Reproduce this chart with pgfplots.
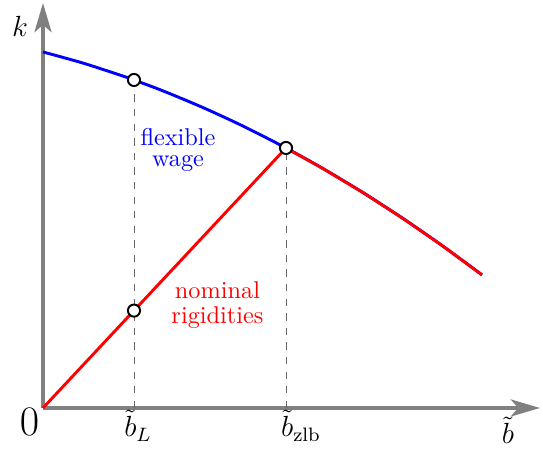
\documentclass[border=0pt]{standalone}
\usepackage{pgfplots}
\pgfplotsset{compat=1.18}
\usetikzlibrary{arrows.meta}

\pgfplotstableread{
b k
0 356
40 344.9
80 331.9
91 328.0
120 317.1
160 300.4
200 281.9
243 260.0
280 239.4
320 215.4
360 189.5
400 161.8
439 133.1
}\flexwage

\pgfplotstableread{
b k
0 0
91 97.4
243 260.0
280 239.4
320 215.4
360 189.5
400 161.8
439 133.1
}\nomrig

\begin{document}
\begin{tikzpicture}
\begin{axis}[
    x=0.4115pt, y=0.4115pt,
    xmin=0, xmax=497, ymin=0, ymax=405,
    axis lines=left,
    axis line style={draw=black!50, line width=1.6pt, -{Stealth[length=12pt, width=7pt, inset=3pt]}},
    xtick=\empty, ytick=\empty,
    clip=false,
]
\path (axis cs:-43,-39) rectangle (axis cs:500,408);
\addplot[draw=black!60, dashed, thin] coordinates {(91,0) (91,328)};
\addplot[draw=black!60, dashed, thin] coordinates {(243,0) (243,260)};
\addplot[blue, line width=1.2pt, smooth] table[x=b, y=k] {\flexwage};
\addplot[red, line width=1.2pt] table[x=b, y=k] {\nomrig};
\addplot[only marks, mark=*, mark size=2.5pt, mark options={fill=white, draw=black, line width=0.8pt}]
    coordinates {(91,328) (243,260) (91,97.4)};
\node[anchor=base, font=\large] at (axis cs:-23,371) {$k$};
\node[anchor=base, font=\LARGE] at (axis cs:-13.5,-28) {$0$};
\node[anchor=base, font=\fontsize{11.5}{13}\selectfont] at (axis cs:95,-29) {$\tilde b_L$};
\node[anchor=base, font=\fontsize{11.5}{13}\selectfont] at (axis cs:258,-29) {$\tilde b_{\mathrm{zlb}}$};
\node[anchor=base, font=\large] at (axis cs:465,-36) {$\tilde b$};
\node[blue, align=center] at (axis cs:135,258) {flexible\\[-3pt]wage};
\node[red, align=center] at (axis cs:174.5,103) {nominal\\[-2pt]rigidities};
\end{axis}
\end{tikzpicture}
\end{document}
